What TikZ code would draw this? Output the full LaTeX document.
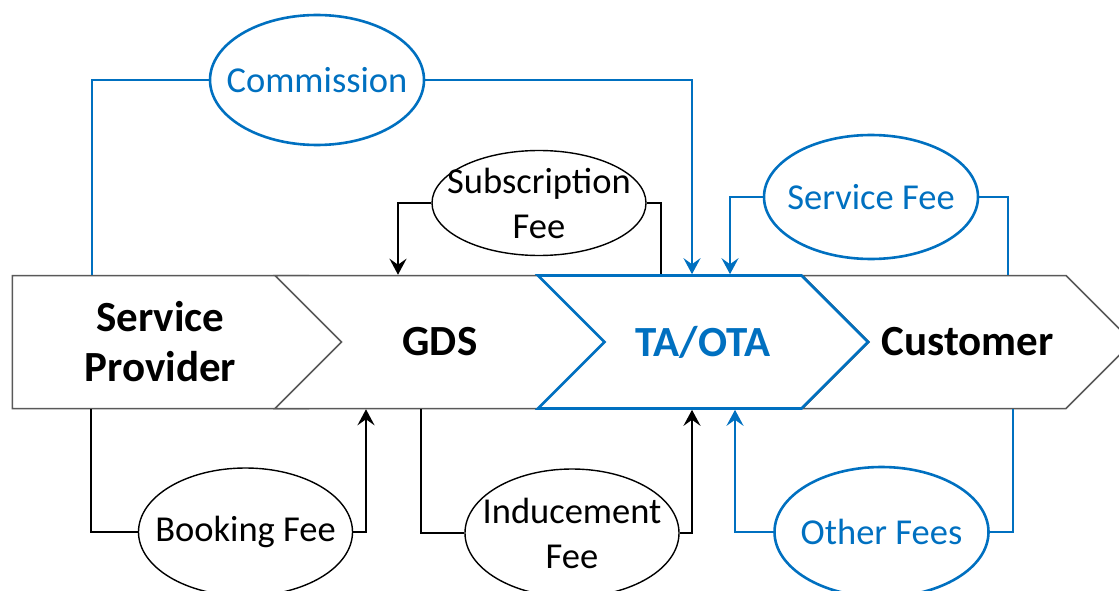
\documentclass[tikz,border=0pt]{standalone}
\usepackage{fontspec}
\setmainfont{Carlito}
\usepackage{xcolor}
\definecolor{OtaBlue}{HTML}{0070C0}
\definecolor{EdgeGray}{HTML}{595959}
\usepackage{tikz}
\usetikzlibrary{shapes.geometric,shapes.symbols,arrows.meta}

\begin{document}
\begin{tikzpicture}[x=1pt,y=-1pt,>={Stealth[length=16pt,width=17pt,inset=6pt]},
    stage/.style={signal,signal to=east,signal from=west,signal pointer angle=90,
      draw=EdgeGray,line width=1.5pt,fill=white,minimum width=330pt,minimum height=133pt,
      inner sep=0pt,align=center,font=\fontsize{43}{50}\selectfont\bfseries},
    fee/.style={ellipse,draw,line width=1.4pt,minimum width=214pt,minimum height=128pt,inner sep=0pt},
    feetext/.style={align=center,font=\fontsize{36.5}{45}\selectfont},
    link/.style={line width=2.8pt}]
    \useasboundingbox (0,0) rectangle (1119,591);
            % value chain
            \node[stage,signal from=nowhere,minimum width=363pt] (sp) at (160.5,342) {Service\\Provider};
            \node[stage] (gds) at (440,342) {GDS};
            \node[stage] (cust) at (967.5,342) {Customer};
            \node[stage,draw=OtaBlue,line width=2.6pt] (ta) at (703,342) {\textcolor{OtaBlue}{TA/OTA}};
            % fees above
            \node[fee,draw=OtaBlue,line width=2.6pt,minimum height=130pt] (com) at (317,80) {};
            \node[feetext] (comT) at (com) {\textcolor{OtaBlue}{Commission}};
            \node[fee,minimum height=105pt] (sub) at (539,203) {};
            \node[feetext] (subT) at (sub) {Subscription\\Fee};
            \node[fee,draw=OtaBlue,line width=2.6pt,minimum height=124pt] (sf) at (871,197) {};
            \node[feetext] (sfT) at (sf) {\textcolor{OtaBlue}{Service Fee}};
            % fees below
            \node[fee] (bf) at (245.5,532) {};
            \node[feetext] (bfT) at (bf) {Booking Fee};
            \node[fee] (ind) at (572,533) {};
            \node[feetext] (indT) at (ind) {Inducement\\Fee};
            \node[fee,draw=OtaBlue,line width=2.6pt,minimum height=130pt] (of) at (881.5,532) {};
            \node[feetext] (ofT) at (of) {\textcolor{OtaBlue}{Other Fees}};
            % payment flows
            \draw[link,OtaBlue] (com.west) -| ([xshift=-68.5pt]sp.north);
            \draw[link,OtaBlue,->] (com.east) -| ([xshift=-11pt]ta.north);
            \draw[link,->] (sub.west) -| ([xshift=-42pt]gds.north);
            \draw[link] (sub.east) -| ([xshift=-42pt]ta.north);
            \draw[link,OtaBlue,->] (sf.west) -| ([xshift=27pt]ta.north);
            \draw[link,OtaBlue] (sf.east) -| ([xshift=40.5pt]cust.north);
            \draw[link] (bf.west) -| ([xshift=-69.5pt]sp.south);
            \draw[link,->] (bf.east) -| ([xshift=-74pt]gds.south);
            \draw[link] (ind.west) -| ([xshift=-19pt]gds.south);
            \draw[link,->] (ind.east) -| ([xshift=-11pt]ta.south);
            \draw[link,OtaBlue,->] (of.west) -| ([xshift=32pt]ta.south);
            \draw[link,OtaBlue] (of.east) -| ([xshift=45.5pt]cust.south);
\end{tikzpicture}
\end{document}
